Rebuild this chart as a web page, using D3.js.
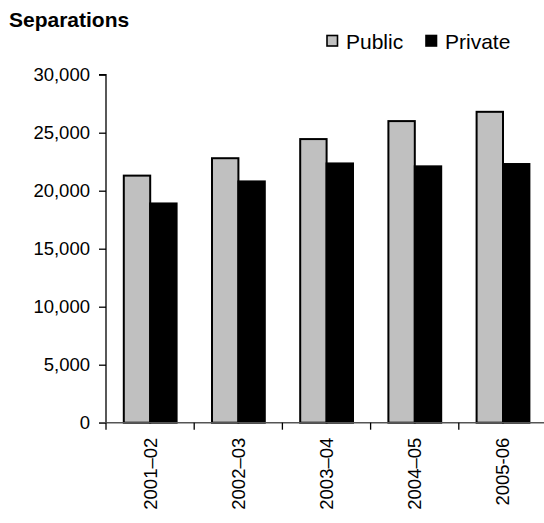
<!DOCTYPE html>
<html>
<head>
<meta charset="utf-8">
<script src="https://cdn.jsdelivr.net/npm/d3@7"></script>
<style>
  html, body { margin: 0; padding: 0; background: #fff; }
  svg { display: block; font-family: Arial, "Liberation Sans", sans-serif; }
</style>
</head>
<body>
<svg id="chart" width="544" height="523"></svg>
<script>
const categories = ["2001\u201302", "2002\u201303", "2003\u201304", "2004\u201305", "2005-06"];
const seriesNames = ["Public", "Private"];
const publicValues = [21300, 22800, 24450, 26000, 26800];
const privateValues = [18900, 20800, 22350, 22100, 22300];
const yTicks = [0, 5000, 10000, 15000, 20000, 25000, 30000];
const colors = ["#c0c0c0", "#000000"];

(function () {
const svg = d3.select("#chart");
const mLeft = 106, mTop = 74.7, mBottom = 422.7, bandW = 88.2;
const mRight = mLeft + bandW * categories.length;

const x = d3.scaleBand().domain(categories).range([mLeft, mRight]).paddingInner(0).paddingOuter(0);
const xs = d3.scaleBand().domain(seriesNames).range([17.8, 70.6]).padding(0);
const y = d3.scaleLinear().domain([0, 30000]).range([mBottom, mTop]);

const data = categories.map((c, i) => ({cat: c, vals: [publicValues[i], privateValues[i]]}));

// bars
const g = svg.append("g");
data.forEach(d => {
  d.vals.forEach((v, j) => {
    g.append("rect")
      .attr("x", x(d.cat) + xs(seriesNames[j]))
      .attr("y", y(v))
      .attr("width", xs.bandwidth())
      .attr("height", y(0) - y(v))
      .attr("fill", colors[j])
      .attr("stroke", "#000")
      .attr("stroke-width", 2);
  });
});

// y axis
const yAxis = d3.axisLeft(y).tickValues(yTicks).tickSize(7).tickPadding(9)
  .tickFormat(d3.format(","));
const ya = svg.append("g").attr("transform", `translate(${mLeft},0)`).call(yAxis);
ya.selectAll("text").attr("font-size", 18.5).attr("fill", "#000").attr("font-family", "Arial, 'Liberation Sans', sans-serif");
ya.selectAll("line").attr("stroke", "#000").attr("stroke-width", 1.3);
ya.select(".domain").attr("stroke", "#000").attr("stroke-width", 1.3).attr("d", `M-7,${mTop}H0V${mBottom}`);

// x axis
const xAxis = d3.axisBottom(x).tickSize(0).tickPadding(0);
const xa = svg.append("g").attr("transform", `translate(0,${mBottom})`).call(xAxis);
xa.select(".domain").attr("stroke", "#555").attr("stroke-width", 1.5).attr("d", `M${mLeft - 7},0H544`);
xa.selectAll(".tick line").remove();
xa.selectAll(".bound").data(categories).enter().append("line")
  .attr("x1", d => x(d)).attr("x2", d => x(d))
  .attr("y1", 0).attr("y2", 7).attr("stroke", "#000").attr("stroke-width", 1.3);
xa.selectAll(".tick text")
  .attr("font-size", 18.5).attr("fill", "#000")
  .attr("font-family", "Arial, 'Liberation Sans', sans-serif")
  .attr("text-anchor", "end")
  .attr("transform", "rotate(-90)")
  .attr("x", -15).attr("y", 0).attr("dy", "0.35em");

// title
svg.append("text").attr("x", 9).attr("y", 27)
  .attr("font-size", 21).attr("font-weight", "bold").attr("fill", "#000")
  .text("Separations");

// legend
const legendX = [327, 426];
seriesNames.forEach((s, j) => {
  svg.append("rect").attr("x", legendX[j]).attr("y", 35.5).attr("width", 10.5).attr("height", 10.5)
    .attr("fill", colors[j]).attr("stroke", "#000").attr("stroke-width", 1.6);
  svg.append("text").attr("x", legendX[j] + 19).attr("y", 48.5)
    .attr("font-size", 21).attr("fill", "#000").text(s);
});
})();
</script>
</body>
</html>
